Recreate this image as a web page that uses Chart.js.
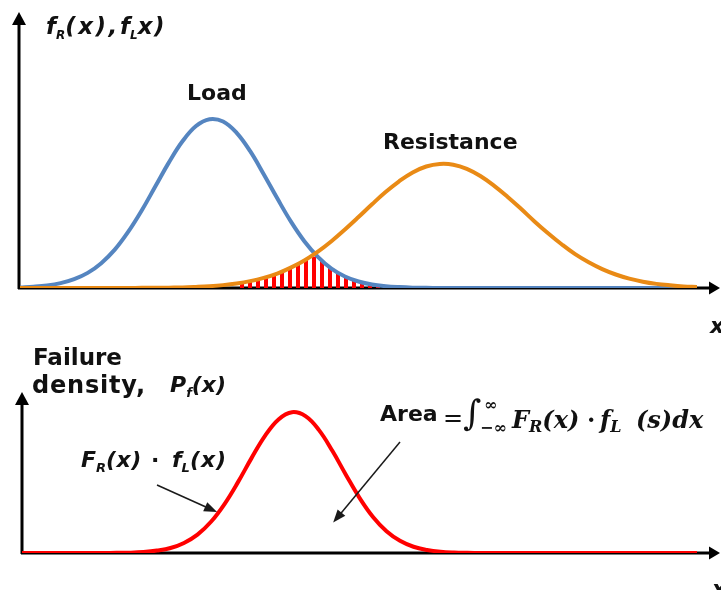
<!DOCTYPE html>
<html>
<head>
<meta charset="utf-8">
<script src="https://cdn.jsdelivr.net/npm/chart.js@4.4.1/dist/chart.umd.min.js"></script>
<style>
  body { margin: 0; background: #fff; }
  #page { position: relative; width: 721px; height: 590px; overflow: hidden; }
  canvas { position: absolute; left: 0; }
  .lbl { position: absolute; font-family: "DejaVu Sans", sans-serif; font-weight: bold; font-size: 22px;
         line-height: 22px; color: #111; white-space: nowrap; }
  .it { font-style: italic; }
  .sub { font-size: 13px; position: relative; top: 5px; letter-spacing: 0; }
  .sp { letter-spacing: 2.5px; }
  .math { font-family: "DejaVu Serif", serif; font-style: italic; font-weight: bold; font-size: 24px; line-height: 24px; }
  .math .sub { font-size: 16px; top: 4px; }
</style>
</head>
<body>
<div id="page">
  <canvas id="topChart" width="721" height="300" style="top:0"></canvas>
  <canvas id="bottomChart" width="721" height="290" style="top:300px"></canvas>

  <div class="lbl it" style="left:46px;top:15px;font-size:23px;line-height:23px">f<span class="sub" style="font-size:12px">R</span><span class="sp">(x),</span></div>
  <div class="lbl it" style="left:120px;top:15px;font-size:23px;line-height:23px">f<span class="sub" style="font-size:12px">L</span><span style="letter-spacing:1.5px">x)</span></div>
  <div class="lbl" style="left:187px;top:82px">Load</div>
  <div class="lbl" style="left:383px;top:131px">Resistance</div>
  <div class="lbl it" style="left:710px;top:315px">x</div>

  <div class="lbl" style="left:33px;top:346px;font-size:23px;line-height:23px">Failure</div>
  <div class="lbl" style="left:32px;top:373px;font-size:24px;line-height:24px;letter-spacing:0.8px">density,</div>
  <div class="lbl it" style="left:170px;top:374px">P<span class="sub">f</span>(x)</div>

  <div class="lbl it" style="left:81px;top:449px">F<span class="sub">R</span><span style="letter-spacing:0.5px">(x)</span></div>
  <div class="lbl" style="left:151px;top:449px">·</div>
  <div class="lbl it" style="left:172px;top:449px">f<span class="sub">L</span><span style="letter-spacing:1px">(x)</span></div>

  <div class="lbl" style="left:380px;top:403px">Area</div>
  <div class="math lbl" style="left:443px;top:406px;font-style:normal;font-weight:normal">=</div>
  <div class="math lbl" style="left:463px;top:396px;font-size:35px;line-height:35px;font-weight:normal">∫</div>
  <div class="math lbl" style="left:484px;top:397px;font-size:16px;line-height:16px;font-style:normal">∞</div>
  <div class="math lbl" style="left:480px;top:420px;font-size:16px;line-height:16px;font-style:normal">−∞</div>
  <div class="math lbl" style="left:512px;top:408px">F<span class="sub">R</span>(x)</div>
  <div class="math lbl" style="left:587px;top:408px;font-style:normal">·</div>
  <div class="math lbl" style="left:600px;top:408px">f<span class="sub">L</span></div>
  <div class="math lbl" style="left:636px;top:408px">(s)dx</div>
  <div class="lbl it" style="left:712px;top:578px">x</div>
</div>

<script>
// shared x grid for every curve
var xs = [0, 2, 4, 6, 8, 10, 12, 14, 16, 18, 20, 22, 24, 26, 28, 30, 32, 34, 36, 38, 40, 42, 44, 46, 48, 50,
          52, 54, 56, 58, 60, 62, 64, 66, 68, 70, 72, 74, 76, 78, 80, 82, 84, 86, 88, 90, 92, 94, 96, 98, 100];

// load density f_L(x)
var loadDensity = [0.003, 0.007, 0.014, 0.027, 0.049, 0.084, 0.138, 0.213, 0.313, 0.432, 0.565, 0.698, 0.815,
                   0.900, 0.938, 0.925, 0.862, 0.760, 0.632, 0.498, 0.370, 0.260, 0.173, 0.108, 0.064, 0.036,
                   0.019, 0.010, 0.005, 0.002, 0.001, 0, 0, 0, 0, 0, 0, 0, 0, 0, 0, 0, 0, 0, 0, 0, 0, 0, 0, 0, 0];

// resistance density f_R(x)
var resistanceDensity = [0, 0, 0, 0, 0, 0, 0, 0, 0, 0.001, 0.001, 0.002, 0.003, 0.006, 0.010, 0.016, 0.025,
                         0.038, 0.056, 0.080, 0.113, 0.153, 0.202, 0.260, 0.325, 0.394, 0.465, 0.533, 0.593,
                         0.642, 0.675, 0.689, 0.685, 0.662, 0.622, 0.569, 0.507, 0.440, 0.370, 0.304, 0.243,
                         0.188, 0.143, 0.105, 0.075, 0.052, 0.035, 0.023, 0.015, 0.009, 0.006];

// failure density P_f(x)
var failureDensity = [0, 0, 0, 0, 0, 0, 0, 0.001, 0.002, 0.006, 0.015, 0.031, 0.063, 0.115, 0.195, 0.306, 0.443,
                      0.593, 0.732, 0.835, 0.880, 0.855, 0.768, 0.637, 0.488, 0.345, 0.225, 0.136, 0.076, 0.039,
                      0.019, 0.008, 0.003, 0.001, 0, 0, 0, 0, 0, 0, 0, 0, 0, 0, 0, 0, 0, 0, 0, 0, 0];

// overlap region that gets hatched
var overlapFrom = 32, overlapTo = 56;

function points(ys) {
    return xs.map(function(x, i) { return { x: x, y: ys[i] }; });
}

// red / white vertical stripes
function stripes() {
    var c = document.createElement('canvas');
    c.width = 8; c.height = 8;
    var g = c.getContext('2d');
    g.fillStyle = '#ff0000';
    g.fillRect(0, 0, 4, 8);
    return g.createPattern(c, 'repeat');
}

// black axes with arrow heads, drawn under the curves
var axisArrows = {
    id: 'axisArrows',
    beforeDatasetsDraw: function(chart, args, opts) {
        var ctx = chart.ctx, a = chart.chartArea;
        var x0 = opts.axisX, y0 = a.bottom;
        ctx.save();
        ctx.strokeStyle = '#000';
        ctx.fillStyle = '#000';
        ctx.lineWidth = 3;
        ctx.beginPath();
        ctx.moveTo(x0, y0 + 1);
        ctx.lineTo(x0, opts.yTip + 10);
        ctx.moveTo(x0 - 1, y0);
        ctx.lineTo(opts.xTip - 8, y0);
        ctx.stroke();
        ctx.beginPath();
        ctx.moveTo(x0, opts.yTip);
        ctx.lineTo(x0 - 7, opts.yTip + 13);
        ctx.lineTo(x0 + 7, opts.yTip + 13);
        ctx.closePath();
        ctx.fill();
        ctx.beginPath();
        ctx.moveTo(opts.xTip, y0);
        ctx.lineTo(opts.xTip - 11, y0 - 6.5);
        ctx.lineTo(opts.xTip - 11, y0 + 6.5);
        ctx.closePath();
        ctx.fill();
        ctx.restore();
    }
};

// thin callout arrows, ends given in data units
var pointers = {
    id: 'pointers',
    afterDatasetsDraw: function(chart, args, opts) {
        if (!opts.list) return;
        var ctx = chart.ctx, sx = chart.scales.x, sy = chart.scales.y;
        ctx.save();
        ctx.strokeStyle = '#1a1a1a';
        ctx.fillStyle = '#1a1a1a';
        ctx.lineWidth = 1.5;
        opts.list.forEach(function(p) {
            var x1 = sx.getPixelForValue(p.from[0]), y1 = sy.getPixelForValue(p.from[1]);
            var x2 = sx.getPixelForValue(p.to[0]), y2 = sy.getPixelForValue(p.to[1]);
            var ang = Math.atan2(y2 - y1, x2 - x1);
            var c = Math.cos(ang), s = Math.sin(ang);
            ctx.beginPath();
            ctx.moveTo(x1, y1);
            ctx.lineTo(x2 - 8 * c, y2 - 8 * s);
            ctx.stroke();
            ctx.beginPath();
            ctx.moveTo(x2, y2);
            ctx.lineTo(x2 - 13 * c + 5 * s, y2 - 13 * s - 5 * c);
            ctx.lineTo(x2 - 13 * c - 5 * s, y2 - 13 * s + 5 * c);
            ctx.closePath();
            ctx.fill();
        });
        ctx.restore();
    }
};

function baseOptions(pad, axisOpts, pointerList) {
    return {
        responsive: false,
        animation: false,
        layout: { padding: pad },
        scales: {
            x: { type: 'linear', min: 0, max: 100, display: false },
            y: { min: 0, max: 1, display: false }
        },
        elements: {
            point: { radius: 0 },
            line: { tension: 0.4, borderCapStyle: 'round', borderJoinStyle: 'round' }
        },
        plugins: {
            legend: { display: false },
            tooltip: { enabled: false },
            axisArrows: axisOpts,
            pointers: { list: pointerList }
        }
    };
}

var overlap = xs.map(function(x, i) {
    var inside = x >= overlapFrom && x <= overlapTo;
    return { x: x, y: inside ? Math.min(loadDensity[i], resistanceDensity[i]) : null };
});

new Chart(document.getElementById('topChart'), {
    type: 'line',
    data: {
        datasets: [
            { label: 'Resistance', data: points(resistanceDensity), borderColor: '#e98a15', borderWidth: 4, fill: false, order: 0 },
            { label: 'Load', data: points(loadDensity), borderColor: '#5585c0', borderWidth: 4, fill: false, order: 1 },
            { label: 'Overlap', data: overlap, borderWidth: 0, borderColor: 'rgba(0,0,0,0)',
              backgroundColor: stripes(), fill: 'origin', spanGaps: false, order: 2 }
        ]
    },
    options: baseOptions({ left: 20, right: 24, top: 108, bottom: 12 }, { axisX: 19, yTip: 12, xTip: 720 }, null),
    plugins: [axisArrows, pointers]
});

new Chart(document.getElementById('bottomChart'), {
    type: 'line',
    data: {
        datasets: [
            { label: 'Failure density', data: points(failureDensity), borderColor: '#ff0000', borderWidth: 4, fill: false }
        ]
    },
    options: baseOptions({ left: 22, right: 24, top: 93, bottom: 37 }, { axisX: 22, yTip: 92, xTip: 720 },
        [ { from: [20.0, 0.425], to: [28.9, 0.256] },
          { from: [56.0, 0.694], to: [46.1, 0.19] } ]),
    plugins: [axisArrows, pointers]
});
</script>
</body>
</html>
